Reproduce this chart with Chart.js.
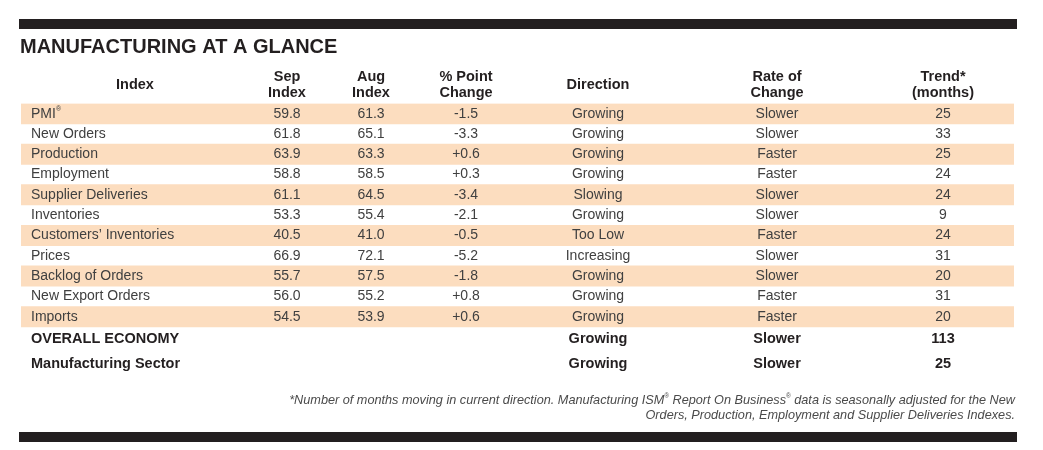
<!DOCTYPE html>
<html>
<head>
<meta charset="utf-8">
<script src="https://cdn.jsdelivr.net/npm/chart.js@4/dist/chart.umd.min.js"></script>
<style>
  html, body { margin: 0; padding: 0; background: #fff; }
  #wrap { width: 1043px; height: 450px; position: relative; }
</style>
</head>
<body>
<div id="wrap"><canvas id="glance"></canvas></div>
<script>
// table values
const indexNames = ['PMI®', 'New Orders', 'Production', 'Employment', 'Supplier Deliveries', 'Inventories',
    'Customers’ Inventories', 'Prices', 'Backlog of Orders', 'New Export Orders', 'Imports'];
const sepIndex = [59.8, 61.8, 63.9, 58.8, 61.1, 53.3, 40.5, 66.9, 55.7, 56.0, 54.5];
const augIndex = [61.3, 65.1, 63.3, 58.5, 64.5, 55.4, 41.0, 72.1, 57.5, 55.2, 53.9];
const pointChange = [-1.5, -3.3, 0.6, 0.3, -3.4, -2.1, -0.5, -5.2, -1.8, 0.8, 0.6];
const direction = ['Growing', 'Growing', 'Growing', 'Growing', 'Slowing', 'Growing', 'Too Low', 'Increasing', 'Growing', 'Growing', 'Growing'];
const rateOfChange = ['Slower', 'Slower', 'Faster', 'Faster', 'Slower', 'Slower', 'Faster', 'Slower', 'Slower', 'Faster', 'Faster'];
const trendMonths = [25, 33, 25, 24, 24, 9, 24, 31, 20, 31, 20];

const summaryNames = ['OVERALL ECONOMY', 'Manufacturing Sector'];
const summaryDirection = ['Growing', 'Growing'];
const summaryRate = ['Slower', 'Slower'];
const summaryTrend = [113, 25];

const title = 'MANUFACTURING AT A GLANCE';
const headers = [['Index'], ['Sep', 'Index'], ['Aug', 'Index'], ['% Point', 'Change'], ['Direction'], ['Rate of', 'Change'], ['Trend*', '(months)']];
const footnote = ['*Number of months moving in current direction. Manufacturing ISM® Report On Business® data is seasonally adjusted for the New',
    'Orders, Production, Employment and Supplier Deliveries Indexes.'];

// layout: x scale runs across the table width (0..993)
const TABLE_W = 993;
const colX = [114, 266, 350, 445, 577, 756, 922];
const nameX = 10;
const summaryShift = [0.1, 0.35];

const ink = '#231f20';
const bodyInk = '#404040';
const stripe = 'rgb(252,221,191)';
const FONT = '"Liberation Sans", Arial, Helvetica, sans-serif';

function fmt(v) { return v.toFixed(1); }
function fmtChange(v) { return (v > 0 ? '+' : '') + v.toFixed(1); }

// draws text, rendering ® as a superscript
function drawText(ctx, str, x, y, align, size, weight, style) {
    const base = `${style || 'normal'} ${weight || 'normal'} ${size}px ${FONT}`;
    const small = `${style || 'normal'} ${weight || 'normal'} ${size * 0.5}px ${FONT}`;
    const parts = str.split('®');
    let total = 0;
    parts.forEach((p, i) => {
        ctx.font = base; total += ctx.measureText(p).width;
        if (i < parts.length - 1) { ctx.font = small; total += ctx.measureText('®').width; }
    });
    let cx = align === 'center' ? x - total / 2 : align === 'right' ? x - total : x;
    ctx.textAlign = 'left';
    ctx.textBaseline = 'middle';
    parts.forEach((p, i) => {
        ctx.font = base; ctx.fillText(p, cx, y); cx += ctx.measureText(p).width;
        if (i < parts.length - 1) {
            ctx.font = small; ctx.fillText('®', cx, y - size * 0.3); cx += ctx.measureText('®').width;
        }
    });
}

const tablePlugin = {
    id: 'tableText',
    afterDatasetsDraw(chart) {
        const ctx = chart.ctx;
        const xs = chart.scales.x;
        const ys = chart.scales.y;
        const X = (v) => xs.getPixelForValue(v);
        ctx.save();

        // black rules
        ctx.fillStyle = ink;
        ctx.fillRect(19, 19, 998, 10);
        ctx.fillRect(19, 432, 998, 10);

        ctx.fillStyle = ink;
        drawText(ctx, title, 20, 47.5, 'left', 20, 'bold');

        // header
        headers.forEach((h, c) => {
            if (h.length === 1) {
                drawText(ctx, h[0], X(colX[c]), 85, 'center', 14.5, 'bold');
            } else {
                drawText(ctx, h[0], X(colX[c]), 77, 'center', 14.5, 'bold');
                drawText(ctx, h[1], X(colX[c]), 93, 'center', 14.5, 'bold');
            }
        });

        // body rows
        ctx.fillStyle = bodyInk;
        indexNames.forEach((name, i) => {
            const y = ys.getPixelForValue(i);
            drawText(ctx, name, X(nameX), y, 'left', 14);
            drawText(ctx, fmt(sepIndex[i]), X(colX[1]), y, 'center', 14);
            drawText(ctx, fmt(augIndex[i]), X(colX[2]), y, 'center', 14);
            drawText(ctx, fmtChange(pointChange[i]), X(colX[3]), y, 'center', 14);
            drawText(ctx, direction[i], X(colX[4]), y, 'center', 14);
            drawText(ctx, rateOfChange[i], X(colX[5]), y, 'center', 14);
            drawText(ctx, String(trendMonths[i]), X(colX[6]), y, 'center', 14);
        });

        // summary rows
        ctx.fillStyle = ink;
        summaryNames.forEach((name, k) => {
            const y = ys.getPixelForValue(indexNames.length + k + summaryShift[k]);
            drawText(ctx, name, X(nameX), y, 'left', 14.5, 'bold');
            drawText(ctx, summaryDirection[k], X(colX[4]), y, 'center', 14.5, 'bold');
            drawText(ctx, summaryRate[k], X(colX[5]), y, 'center', 14.5, 'bold');
            drawText(ctx, String(summaryTrend[k]), X(colX[6]), y, 'center', 14.5, 'bold');
        });

        // footnote
        ctx.fillStyle = '#4a4a4a';
        drawText(ctx, footnote[0], 1015, 400, 'right', 12.7, 'normal', 'italic');
        drawText(ctx, footnote[1], 1015, 415, 'right', 12.7, 'normal', 'italic');

        ctx.restore();
    },
};

const rowLabels = indexNames.concat(summaryNames);

new Chart(document.getElementById('glance'), {
    type: 'bar',
    data: {
        labels: rowLabels,
        datasets: [{
            data: rowLabels.map((_, i) => (i < indexNames.length && i % 2 === 0 ? [0, TABLE_W] : null)),
            backgroundColor: stripe,
            borderWidth: 0,
            barPercentage: 1,
            categoryPercentage: 1,
        }],
    },
    options: {
        indexAxis: 'y',
        responsive: true,
        maintainAspectRatio: false,
        animation: false,
        events: [],
        layout: { padding: { left: 21, right: 29, top: 103.5, bottom: 82.6 } },
        scales: {
            x: { type: 'linear', min: 0, max: TABLE_W, display: false },
            y: { type: 'category', display: false },
        },
        plugins: {
            legend: { display: false },
            tooltip: { enabled: false },
        },
    },
    plugins: [tablePlugin],
});
</script>
</body>
</html>
